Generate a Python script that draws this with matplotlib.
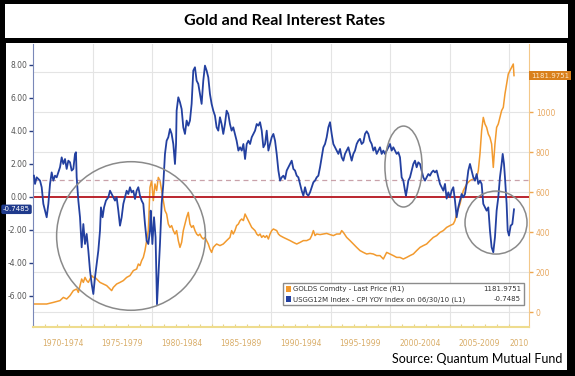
import matplotlib
matplotlib.use("Agg")
import matplotlib.pyplot as plt
from matplotlib.patches import Rectangle, Ellipse
from matplotlib.transforms import blended_transform_factory

# real rate: USGG12M Index - CPI YOY (left axis)
real_years = [
    1970.08, 1970.17, 1970.31, 1970.45, 1970.59, 1970.73, 1970.87, 1971.01, 1971.15, 1971.29,
    1971.43, 1971.57, 1971.71, 1971.85, 1971.99, 1972.13, 1972.27, 1972.41, 1972.55, 1972.69,
    1972.83, 1972.97, 1973.11, 1973.25, 1973.39, 1973.53, 1973.61, 1973.67, 1973.81, 1973.95,
    1974.09, 1974.23, 1974.37, 1974.51, 1974.65, 1974.79, 1974.93, 1975.07, 1975.21, 1975.35,
    1975.49, 1975.63, 1975.71, 1975.85, 1975.97, 1976.13, 1976.33, 1976.47, 1976.61, 1976.75,
    1976.89, 1977.03, 1977.17, 1977.31, 1977.45, 1977.59, 1977.73, 1977.87, 1978.01, 1978.15,
    1978.29, 1978.43, 1978.57, 1978.71, 1978.85, 1978.99, 1979.13, 1979.27, 1979.41, 1979.55,
    1979.69, 1979.83, 1979.89, 1980.03, 1980.17, 1980.30, 1980.42, 1980.67, 1980.81, 1980.95,
    1981.09, 1981.23, 1981.37, 1981.51, 1981.65, 1981.79, 1981.93, 1982.02, 1982.07, 1982.21,
    1982.35, 1982.49, 1982.63, 1982.77, 1982.91, 1983.05, 1983.19, 1983.33, 1983.47, 1983.61,
    1983.75, 1983.89, 1984.03, 1984.17, 1984.31, 1984.45, 1984.59, 1984.73, 1984.87, 1985.01,
    1985.15, 1985.29, 1985.43, 1985.57, 1985.71, 1985.85, 1985.99, 1986.13, 1986.27, 1986.41,
    1986.55, 1986.69, 1986.83, 1986.97, 1987.11, 1987.26, 1987.40, 1987.54, 1987.68, 1987.82,
    1987.96, 1988.10, 1988.24, 1988.38, 1988.52, 1988.66, 1988.80, 1988.94, 1989.08, 1989.22,
    1989.36, 1989.50, 1989.64, 1989.78, 1989.92, 1990.06, 1990.20, 1990.34, 1990.48, 1990.62,
    1990.76, 1990.90, 1991.04, 1991.18, 1991.32, 1991.46, 1991.60, 1991.74, 1991.88, 1992.02,
    1992.16, 1992.30, 1992.44, 1992.58, 1992.72, 1992.86, 1993.00, 1993.14, 1993.28, 1993.42,
    1993.56, 1993.70, 1993.84, 1993.98, 1994.12, 1994.26, 1994.40, 1994.54, 1994.68, 1994.82,
    1994.96, 1995.10, 1995.24, 1995.38, 1995.52, 1995.66, 1995.80, 1995.94, 1996.08, 1996.22,
    1996.36, 1996.50, 1996.64, 1996.78, 1996.92, 1997.06, 1997.20, 1997.34, 1997.48, 1997.62,
    1997.76, 1997.90, 1998.04, 1998.18, 1998.32, 1998.46, 1998.60, 1998.74, 1998.88, 1999.02,
    1999.16, 1999.30, 1999.44, 1999.58, 1999.72, 1999.86, 2000.00, 2000.14, 2000.28, 2000.42,
    2000.56, 2000.70, 2000.84, 2000.98, 2001.12, 2001.26, 2001.34, 2001.46, 2001.54, 2001.68,
    2001.82, 2001.96, 2002.10, 2002.24, 2002.38, 2002.52, 2002.66, 2002.80, 2002.94, 2003.08,
    2003.22, 2003.36, 2003.50, 2003.64, 2003.78, 2003.92, 2004.06, 2004.20, 2004.34, 2004.48,
    2004.62, 2004.76, 2004.90, 2005.04, 2005.18, 2005.32, 2005.46, 2005.60, 2005.74, 2005.88,
    2006.02, 2006.16, 2006.30, 2006.44, 2006.58, 2006.72, 2006.86, 2007.00, 2007.14, 2007.28,
    2007.42, 2007.56, 2007.70, 2007.84, 2007.98, 2008.12, 2008.26, 2008.40, 2008.54, 2008.68,
    2008.82, 2008.96, 2009.10, 2009.24, 2009.38, 2009.47, 2009.58, 2009.66, 2009.80, 2009.89,
    2010.00, 2010.14, 2010.28, 2010.42,
]
real_rate = [
    1.29, 0.79, 1.19, 1.09, 0.99, 0.59, -0.42, -0.83, -1.23, -0.42,
    0.79, 1.49, 0.99, 1.29, 1.19, 1.49, 1.80, 2.40, 2.00, 2.30,
    1.70, 2.20, 2.10, 1.60, 1.70, 2.61, 2.71, 1.19, -0.22, -1.23,
    -3.05, -1.64, -2.85, -2.24, -3.25, -4.46, -5.27, -5.88, -4.87, -4.06,
    -3.25, -2.04, -0.63, -1.23, -0.63, -0.22, -0.02, 0.38, 0.18, -0.02,
    -0.22, -0.02, -0.83, -1.74, -1.23, -0.42, -0.02, 0.38, 0.18, 0.59,
    0.28, 0.38, -0.12, 0.38, 0.59, 0.08, -0.22, -0.42, -1.64, -2.65,
    -2.85, -2.04, -0.83, -2.85, -1.23, -2.44, -6.50, -2.85, -0.42, 0.79,
    2.61, 3.41, 3.62, 4.12, 3.82, 3.21, 2.00, 3.21, 5.23, 6.04,
    5.74, 5.33, 4.22, 3.82, 4.63, 4.32, 4.63, 5.64, 7.66, 7.86,
    7.05, 6.85, 6.24, 5.64, 7.05, 7.96, 7.66, 7.25, 6.24, 5.64,
    5.23, 4.93, 4.22, 4.02, 4.83, 4.42, 3.82, 4.42, 5.23, 5.03,
    4.42, 4.02, 4.22, 3.82, 3.41, 2.81, 3.01, 2.81, 3.21, 2.30,
    3.21, 3.41, 3.21, 3.62, 3.82, 4.02, 4.42, 4.32, 4.53, 4.02,
    3.01, 3.21, 4.02, 2.81, 3.21, 3.62, 3.82, 3.41, 2.60, 1.60,
    0.99, 1.19, 1.29, 1.09, 1.60, 1.80, 2.00, 2.20, 1.70, 1.60,
    1.29, 1.19, 0.79, 0.38, 0.08, 0.59, 0.18, 0.08, 0.28, 0.59,
    0.89, 0.99, 1.19, 1.29, 1.80, 2.40, 3.01, 3.21, 3.62, 4.22,
    4.53, 3.82, 3.21, 3.01, 2.81, 2.61, 2.91, 2.40, 2.20, 2.61,
    2.81, 3.01, 2.61, 2.20, 2.61, 2.81, 3.21, 3.41, 3.52, 3.21,
    3.31, 3.82, 3.98, 3.82, 3.41, 3.21, 2.81, 3.01, 2.61, 2.81,
    3.01, 2.61, 2.81, 2.61, 2.81, 3.01, 3.21, 2.81, 3.01, 2.81,
    2.61, 2.71, 2.40, 1.19, 0.99, 0.38, 0.08, 0.59, 0.99, 1.19,
    1.60, 2.00, 2.20, 1.80, 2.10, 2.00, 1.60, 1.19, 0.99, 1.19,
    1.39, 1.29, 1.49, 1.60, 1.49, 1.60, 1.19, 0.79, 0.59, 0.38,
    0.79, -0.10, 0.28, -0.02, 0.38, 0.59, -0.22, -1.23, -0.63, -0.22,
    0.18, -0.02, 0.18, 0.79, 1.60, 2.00, 1.60, 1.19, 0.99, 1.39,
    0.79, 0.99, 0.79, -0.42, -0.63, -0.83, -0.63, -2.04, -3.05, -3.35,
    -2.44, -0.83, -0.02, 1.19, 2.00, 2.61, 2.00, 1.19, -0.42, -2.04,
    -2.34, -1.74, -1.64, -0.7485,
]

# gold: GOLDS Comdty last price (right axis)
gold_years = [
    1970.03, 1971.15, 1971.71, 1972.27, 1972.55, 1972.83, 1973.11, 1973.39, 1973.67, 1973.81,
    1973.95, 1974.09, 1974.23, 1974.37, 1974.51, 1974.65, 1974.79, 1974.93, 1975.07, 1975.21,
    1975.35, 1975.63, 1975.91, 1976.19, 1976.47, 1976.61, 1976.75, 1977.03, 1977.31, 1977.59,
    1977.87, 1978.15, 1978.43, 1978.71, 1978.85, 1978.99, 1979.13, 1979.27, 1979.41, 1979.55,
    1979.69, 1979.83, 1979.97, 1980.11, 1980.25, 1980.39, 1980.53, 1980.67, 1980.81, 1980.95,
    1981.09, 1981.23, 1981.37, 1981.51, 1981.65, 1981.79, 1981.93, 1982.07, 1982.21, 1982.35,
    1982.49, 1982.63, 1982.77, 1982.91, 1983.05, 1983.19, 1983.33, 1983.47, 1983.61, 1983.75,
    1983.89, 1984.03, 1984.17, 1984.31, 1984.45, 1984.59, 1984.73, 1984.87, 1985.01, 1985.15,
    1985.29, 1985.43, 1985.71, 1985.99, 1986.27, 1986.55, 1986.69, 1986.83, 1986.97, 1987.11,
    1987.26, 1987.40, 1987.54, 1987.68, 1987.82, 1987.96, 1988.10, 1988.24, 1988.38, 1988.52,
    1988.66, 1988.80, 1988.94, 1989.08, 1989.22, 1989.36, 1989.50, 1989.64, 1989.78, 1989.92,
    1990.06, 1990.20, 1990.48, 1990.62, 1990.76, 1991.04, 1991.32, 1991.60, 1991.88, 1992.16,
    1992.44, 1992.72, 1993.00, 1993.28, 1993.42, 1993.56, 1993.70, 1993.84, 1994.12, 1994.40,
    1994.68, 1994.96, 1995.24, 1995.52, 1995.80, 1995.94, 1996.08, 1996.36, 1996.64, 1996.92,
    1997.20, 1997.48, 1997.76, 1998.04, 1998.32, 1998.60, 1998.88, 1999.16, 1999.44, 1999.72,
    2000.00, 2000.28, 2000.56, 2000.84, 2001.12, 2001.40, 2001.68, 2001.96, 2002.24, 2002.52,
    2002.80, 2003.08, 2003.36, 2003.64, 2003.92, 2004.20, 2004.48, 2004.76, 2005.04, 2005.32,
    2005.46, 2005.60, 2005.88, 2006.16, 2006.44, 2006.72, 2007.00, 2007.28, 2007.42, 2007.56,
    2007.70, 2007.84, 2007.98, 2008.12, 2008.26, 2008.40, 2008.54, 2008.68, 2008.82, 2008.96,
    2009.10, 2009.24, 2009.38, 2009.52, 2009.66, 2009.80, 2009.94, 2010.08, 2010.22, 2010.36,
    2010.42,
]
gold_price = [
    40, 40, 48, 57, 73, 65, 82, 107, 115, 98,
    132, 165, 148, 173, 157, 148, 165, 182, 173, 173,
    165, 148, 140, 132, 115, 107, 123, 140, 148, 157,
    173, 182, 207, 215, 240, 232, 257, 273, 307, 357,
    407, 623, 657, 557, 640, 607, 673, 657, 607, 557,
    507, 490, 440, 423, 432, 407, 390, 407, 357, 323,
    348, 407, 440, 473, 498, 440, 423, 432, 407, 390,
    382, 390, 373, 365, 373, 357, 340, 315, 298, 323,
    332, 340, 332, 340, 357, 373, 407, 390, 407, 432,
    440, 457, 465, 457, 490, 473, 457, 440, 423, 415,
    407, 390, 382, 390, 373, 382, 373, 382, 365, 390,
    407, 415, 407, 390, 382, 373, 365, 357, 348, 340,
    348, 357, 357, 365, 382, 407, 382, 390, 387, 390,
    393, 387, 382, 390, 390, 407, 398, 373, 357, 340,
    323, 307, 298, 290, 293, 290, 282, 282, 265, 298,
    290, 282, 273, 273, 265, 273, 282, 290, 307, 323,
    332, 340, 357, 373, 382, 398, 407, 423, 432, 440,
    457, 490, 540, 607, 640, 657, 665, 673, 707, 790,
    907, 973, 940, 923, 890, 873, 840, 723, 840, 923,
    940, 973, 1007, 1023, 1090, 1140, 1190, 1207, 1223, 1240,
    1181.9751,
]

left_ticks = [-6, -4, -2, 0, 2, 4, 6, 8]
right_ticks = [0, 200, 400, 600, 800, 1000, 1200]
period_labels = ["1970-1974", "1975-1979", "1980-1984", "1985-1989", "1990-1994",
                 "1995-1999", "2000-2004", "2005-2009", "2010"]
period_starts = [1970, 1975, 1980, 1985, 1990, 1995, 2000, 2005, 2010]

BLUE = "#2340a0"
ORANGE = "#f29a2e"
W, H = 575, 376


def px_box(x0, y0, x1, y1):
    return (x0 / W, 1 - y1 / H), (x1 - x0) / W, (y1 - y0) / H


fig = plt.figure(figsize=(W / 100, H / 100), dpi=100, facecolor="black")

for box in [px_box(5, 4, 568, 38), px_box(6, 43, 567, 370)]:
    fig.patches.append(Rectangle(box[0], box[1], box[2], transform=fig.transFigure,
                                 facecolor="white", edgecolor="none", zorder=-5))

fig.text(285 / W, 1 - 21 / H, "Gold and Real Interest Rates", ha="center", va="center",
         fontsize=11.5, fontweight="bold", family="Lato", color="black")
fig.text(562 / W, 1 - 359 / H, "Source: Quantum Mutual Fund", ha="right", va="center",
         fontsize=9, family="Lato", color="black")

ax = fig.add_axes([33 / W, 1 - 327 / H, 496 / W, 283 / H])
ax2 = ax.twinx()
ax.set_zorder(ax2.get_zorder() + 1)
ax.patch.set_visible(False)
ax2.patch.set_visible(False)

xmax = 1970 + 496 / 11.9
ax.set_xlim(1970, xmax)
ax.set_ylim(-7.88, 9.27)
ax2.set_ylim(-75, 1340)

# grid (follows right axis) and 5-year separators
ax2.set_yticks(right_ticks)
ax2.set_yticklabels([str(t) for t in right_ticks[:-1]] + [""])
ax2.yaxis.grid(True, color="#e4e4e4", lw=0.8)
for yr in period_starts[1:]:
    ax2.axvline(yr, color="#e4e4e4", lw=0.8, zorder=0)

ax2.plot(gold_years, gold_price, color=ORANGE, lw=1.1, zorder=2)

ax.axhline(1.0, color="#c9a2aa", lw=0.9, ls=(0, (4, 3)), zorder=1)
ax.axhline(0.0, color="#b4141e", lw=1.3, zorder=2)
ax.plot(real_years, real_rate, color=BLUE, lw=1.3, zorder=3)

# circles
for (cx, cy, w, h) in [(0.1976, 0.3216, 0.300, 0.525), (0.747, 0.567, 0.075, 0.286),
                       (0.9335, 0.369, 0.125, 0.2226)]:
    ax.add_patch(Ellipse((cx, cy), w, h, transform=ax.transAxes, fill=False,
                         edgecolor="#8a8a8a", lw=1.1, zorder=5))

# axes styling
ax.set_yticks(left_ticks)
ax.set_yticklabels(["%.2f" % t for t in left_ticks])
ax.tick_params(axis="y", labelsize=5.5, labelcolor="#555555", color="#2a3f80",
               length=3, width=1, pad=1)
ax2.tick_params(axis="y", labelsize=5.5, labelcolor="#e8a860", color="#eda650",
                length=3, width=1, pad=2)

ax.set_xticks(range(1970, 2011))
ax.set_xticklabels([])
ax.tick_params(axis="x", which="major", length=2.5, color="#e8d48a", direction="in")
centers = [s + 2.5 for s in period_starts[:-1]] + [(2010 + xmax) / 2]
ax.set_xticks(centers, minor=True)
ax.set_xticklabels(period_labels, minor=True)
ax.tick_params(axis="x", which="minor", length=0, labelsize=5.5, labelcolor="#d9ad68", pad=9)

for a in (ax, ax2):
    a.spines["top"].set_visible(False)
ax.spines["left"].set_color("#7a88b8")
ax.spines["bottom"].set_color("#eedc8e")
ax.spines["bottom"].set_linewidth(1.5)
ax.spines["right"].set_visible(False)
ax2.spines["left"].set_visible(False)
ax2.spines["bottom"].set_visible(False)
ax2.spines["right"].set_color("#f3c88a")

# last value tags
tl = blended_transform_factory(ax.transAxes, ax.transData)
ax.text(-0.006, real_rate[-1], "%.4f" % real_rate[-1], transform=tl, ha="right", va="center",
        fontsize=5, color="white", zorder=10, clip_on=False,
        bbox=dict(boxstyle="round,pad=0.25", fc="#1f3a8c", ec="none"))
tr = blended_transform_factory(ax2.transAxes, ax2.transData)
ax2.text(1.004, gold_price[-1], "%.4f" % gold_price[-1], transform=tr, ha="left", va="center",
         fontsize=5, color="#fde8c8", zorder=10, clip_on=False,
         bbox=dict(boxstyle="square,pad=0.25", fc="#d9801c", ec="none"))

# legend box
lx0, lx1 = (283 - 33) / 496, (524 - 33) / 496
ly0, ly1 = (327 - 305) / 283, (327 - 283) / 283
ax.add_patch(Rectangle((lx0, ly0), lx1 - lx0, ly1 - ly0, transform=ax.transAxes,
                       facecolor="white", edgecolor="#8c8c8c", lw=1, zorder=6))
entries = [(ORANGE, "GOLDS Comdty - Last Price (R1)", "%.4f" % gold_price[-1]),
           (BLUE, "USGG12M Index - CPI YOY Index on 06/30/10 (L1)", "%.4f" % real_rate[-1])]
for i, (c, label, val) in enumerate(entries):
    yc = ly1 - (ly1 - ly0) * (0.28 + 0.46 * i)
    ax.add_patch(Rectangle((lx0 + 0.006, yc - 0.011), 0.011, 0.022, transform=ax.transAxes,
                           facecolor=c, edgecolor="none", zorder=7))
    ax.text(lx0 + 0.021, yc, label, transform=ax.transAxes, fontsize=5, color="#333333",
            va="center", ha="left", zorder=7)
    ax.text(lx1 - 0.006, yc, val, transform=ax.transAxes, fontsize=5, color="#333333",
            va="center", ha="right", zorder=7)

fig.savefig("out.png", dpi=100, facecolor="black")
